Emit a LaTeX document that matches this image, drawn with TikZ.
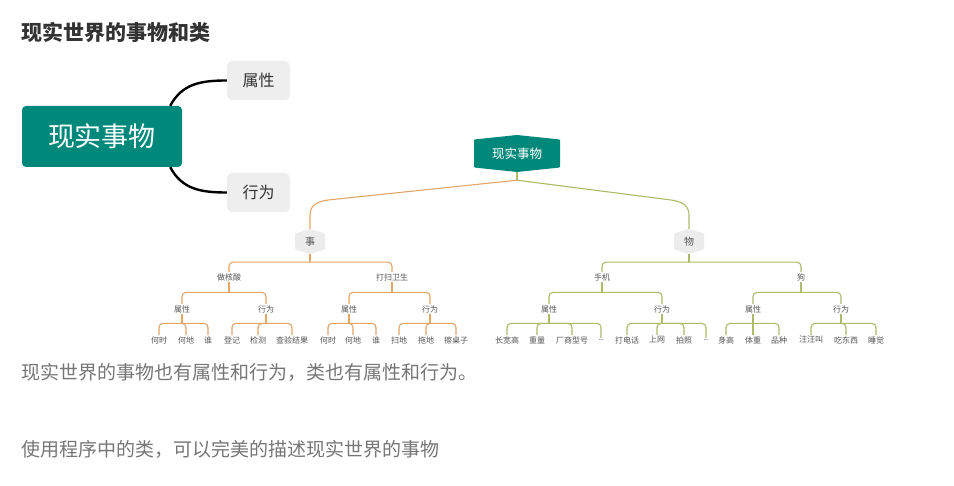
\documentclass[tikz,border=0pt]{standalone}
\usepackage{fontspec}
\setmainfont{Noto Sans CJK SC}
\usetikzlibrary{calc}
\definecolor{tealA}{RGB}{0,137,123}
\definecolor{boxgray}{RGB}{238,238,238}
\definecolor{hexgray}{RGB}{236,236,236}
\definecolor{titlec}{RGB}{51,51,51}
\definecolor{bodyc}{RGB}{118,118,118}
\definecolor{treetxt}{RGB}{85,85,85}
\definecolor{orangeL}{RGB}{226,166,104}
\definecolor{greenL}{RGB}{172,187,104}
\newcommand\mybracket[4]{%
  \draw[#3] (#1.south) -- ++(0,#2);
  \foreach \c in {#4}{\draw[#3] (#1.south) ++(0,#2) -| (\c.north);}}
\begin{document}
\begin{tikzpicture}[x=1pt,y=-1pt,
  lbl/.style={font=\fontsize{8}{9}\selectfont, text=treetxt, inner sep=1pt},
  oline/.style={draw=orangeL, line width=1.1pt, rounded corners=4pt},
  gline/.style={draw=greenL, line width=1.1pt, rounded corners=4pt},
  hexs/.style={inner sep=0pt, path picture={\fill[#1, rounded corners=1pt]
     ([yshift=-4.5pt]path picture bounding box.north west) -- (path picture bounding box.north)
     -- ([yshift=-4.5pt]path picture bounding box.north east) -- ([yshift=4.5pt]path picture bounding box.south east)
     -- (path picture bounding box.south) -- ([yshift=4.5pt]path picture bounding box.south west) -- cycle;}},
  graybox/.style={fill=boxgray, rounded corners=5pt, minimum width=63pt, minimum height=39pt, text=titlec, font=\fontsize{16}{18}\selectfont},
  mind/.style={draw=black, line width=2.4pt}
]
\useasboundingbox[fill=white] (0,0) rectangle (954,486);

% title
\node[anchor=west, inner sep=0pt, text=titlec, font=\fontsize{21}{24}\bfseries\selectfont] (title) at (21,32) {现实世界的事物和类};

% left mind map
\node[fill=tealA, rounded corners=4pt, minimum width=160pt, minimum height=61pt, text=white, font=\fontsize{27}{30}\selectfont] (main) at (102,136.5) {现实事物};
\node[graybox] (attr) at (258.5,80.5) {属性};
\node[graybox] (beh) at (258.5,192.5) {行为};
\draw[mind] ([xshift=-12pt]main.north east) .. controls (182,84) and (200,80.5) .. (attr.west);
\draw[mind] ([xshift=-12pt]main.south east) .. controls (182,189) and (200,192.5) .. (beh.west);

% tree root
\node[hexs=tealA, minimum width=86pt, minimum height=37pt, text=white, font=\fontsize{12.5}{14}\selectfont] (root) at (517,153.5) {现实事物};
\node[hexs=hexgray, minimum width=30pt, minimum height=25pt, text=treetxt, font=\fontsize{10}{12}\selectfont] (shi) at (310,241.5) {事};
\node[hexs=hexgray, minimum width=30pt, minimum height=25pt, text=treetxt, font=\fontsize{10}{12}\selectfont] (wu) at (689,241.5) {物};

\draw[gline] (root.south) -- ++(0,8) coordinate (rj);
\draw[draw=orangeL, line width=1.1pt] (rj) -- (328,200) .. controls (314,202) and (310,207) .. (310,216) -- (shi.north);
\draw[draw=greenL, line width=1.1pt] (rj) -- (671,200) .. controls (685,202) and (689,207) .. (689,216) -- (wu.north);

% level 1
\node[lbl] (a1) at (229,277) {做核酸};
\node[lbl] (a2) at (392,277) {打扫卫生};
\node[lbl] (b1) at (602,277) {手机};
\node[lbl] (b2) at (801,277) {狗};

% level 2
\node[lbl] (a1p) at (182,309) {属性};
\node[lbl] (a1x) at (266,309) {行为};
\node[lbl] (a2p) at (349,309) {属性};
\node[lbl] (a2x) at (430,309) {行为};
\node[lbl] (b1p) at (549,309) {属性};
\node[lbl] (b1x) at (662,309) {行为};
\node[lbl] (b2p) at (753,309) {属性};
\node[lbl] (b2x) at (841,309) {行为};

% leaves
\node[lbl] (a1p1) at (159,340) {何时};
\node[lbl] (a1p2) at (186,340) {何地};
\node[lbl] (a1p3) at (208,340) {谁};
\node[lbl] (a1x1) at (232,340) {登记};
\node[lbl] (a1x2) at (258,340) {检测};
\node[lbl] (a1x3) at (292,340) {查验结果};
\node[lbl] (a2p1) at (328,340) {何时};
\node[lbl] (a2p2) at (353,340) {何地};
\node[lbl] (a2p3) at (376,340) {谁};
\node[lbl] (a2x1) at (399,340) {扫地};
\node[lbl] (a2x2) at (426,340) {拖地};
\node[lbl] (a2x3) at (456,340) {擦桌子};
\node[lbl] (b1p1) at (507,340) {长宽高};
\node[lbl] (b1p2) at (537,340) {重量};
\node[lbl] (b1p3) at (572,340) {厂商型号};
\node[lbl] (b1p4) at (601,340) {..};
\node[lbl] (b1x1) at (627,340) {打电话};
\node[lbl] (b1x2) at (657,340) {上网};
\node[lbl] (b1x3) at (684,340) {拍照};
\node[lbl] (b1x4) at (706,340) {..};
\node[lbl] (b2p1) at (726,340) {身高};
\node[lbl] (b2p2) at (753,340) {体重};
\node[lbl] (b2p3) at (779,340) {品种};
\node[lbl] (b2x1) at (811,340) {汪汪叫};
\node[lbl] (b2x2) at (846,340) {吃东西};
\node[lbl] (b2x3) at (876,340) {睡觉};

% brackets
\mybracket{shi}{8}{oline}{a1,a2}
\mybracket{wu}{8}{gline}{b1,b2}
\mybracket{a1}{10.5}{oline}{a1p,a1x}
\mybracket{a2}{10.5}{oline}{a2p,a2x}
\mybracket{b1}{10.5}{gline}{b1p,b1x}
\mybracket{b2}{10.5}{gline}{b2p,b2x}
\mybracket{a1p}{9.5}{oline}{a1p1,a1p2,a1p3}
\mybracket{a1x}{9.5}{oline}{a1x1,a1x2,a1x3}
\mybracket{a2p}{9.5}{oline}{a2p1,a2p2,a2p3}
\mybracket{a2x}{9.5}{oline}{a2x1,a2x2,a2x3}
\mybracket{b1p}{9.5}{gline}{b1p1,b1p2,b1p3,b1p4}
\mybracket{b1x}{9.5}{gline}{b1x1,b1x2,b1x3,b1x4}
\mybracket{b2p}{9.5}{gline}{b2p1,b2p2,b2p3}
\mybracket{b2x}{9.5}{gline}{b2x1,b2x2,b2x3}

% body text
\node[anchor=west, inner sep=0pt, text=bodyc, font=\fontsize{19}{22}\selectfont] (line1) at (21,372) {现实世界的事物也有属性和行为，类也有属性和行为。};
\node[anchor=west, inner sep=0pt, text=bodyc, font=\fontsize{19}{22}\selectfont] (line2) at (21,449) {使用程序中的类，可以完美的描述现实世界的事物};
\end{tikzpicture}
\end{document}
